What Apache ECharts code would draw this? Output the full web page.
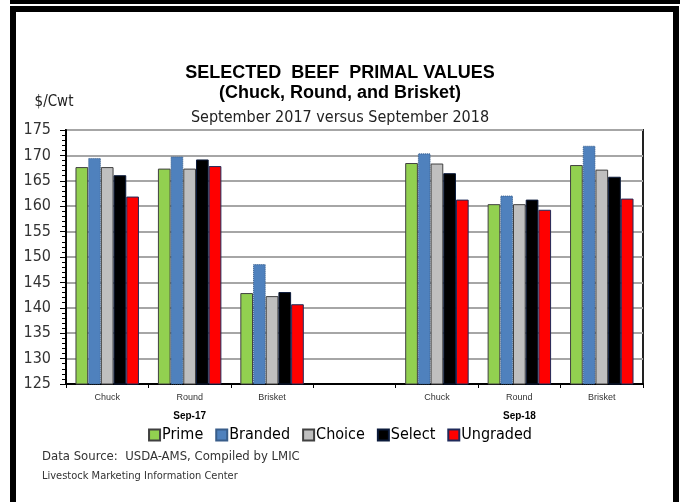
<!DOCTYPE html>
<html>
<head>
<meta charset="utf-8">
<script src="https://cdn.jsdelivr.net/npm/echarts@6/dist/echarts.min.js"></script>
<style>
  html, body { margin: 0; padding: 0; background: #fff; }
  #chart { width: 680px; height: 502px; }
</style>
</head>
<body>
<div id="chart"></div>
<script>
// categories along the x axis (4th slot is the empty spacer between years)
const cuts = ['Chuck', 'Round', 'Brisket', '', 'Chuck', 'Round', 'Brisket'];
const periods = ['', 'Sep-17', '', '', '', 'Sep-18', ''];

// $/cwt, Sep-17 then spacer then Sep-18
const prime    = [167.7, 167.4, 142.9, null, 168.5, 160.4, 168.1];
const branded  = [169.5, 169.8, 148.6, null, 170.4, 162.1, 171.9];
const choice   = [167.7, 167.4, 142.3, null, 168.4, 160.4, 167.2];
const select   = [166.1, 169.2, 143.1, null, 166.5, 161.3, 165.8];
const ungraded = [161.9, 167.9, 140.7, null, 161.3, 159.3, 161.5];

const narrow = "'Liberation Sans Narrow', 'DejaVu Sans Condensed', sans-serif";

const chart = echarts.init(document.getElementById('chart'));

function bar(name, data, color, border, borderType) {
  return {
    name: name,
    type: 'bar',
    data: data,
    barGap: '0%',
    barCategoryGap: '23%',
    itemStyle: {
      color: color,
      borderColor: border,
      borderWidth: 1,
      borderType: borderType || 'solid'
    }
  };
}

chart.setOption({
  animation: false,
  backgroundColor: '#fff',
  title: [
    {
      text: 'SELECTED  BEEF  PRIMAL VALUES\n(Chuck, Round, and Brisket)',
      left: 'center',
      top: 58,
      textStyle: { fontSize: 18, fontWeight: 'bold', color: '#000', lineHeight: 20, fontFamily: 'Liberation Sans' }
    },
    {
      text: 'September 2017 versus September 2018',
      left: 'center',
      top: 105,
      textStyle: { fontSize: 16, fontWeight: 'normal', color: '#222', fontFamily: narrow }
    }
  ],
  legend: {
    top: 422,
    left: 'center',
    icon: 'rect',
    itemWidth: 11,
    itemHeight: 11,
    itemGap: 12,
    textStyle: { fontSize: 16, color: '#000', fontFamily: narrow, padding: [0, 0, 0, -3] },
    data: ['Prime', 'Branded', 'Choice', 'Select', 'Ungraded']
  },
  grid: {
    left: 66, right: 37, top: 130, bottom: 118,
    show: true,
    borderColor: '#222',
    borderWidth: 2
  },
  xAxis: [
    {
      type: 'category',
      data: cuts,
      axisLine: { lineStyle: { color: '#000', width: 2 } },
      axisTick: { show: true, length: 4, lineStyle: { color: '#000' } },
      axisLabel: { fontSize: 9, color: '#333', margin: 9, fontFamily: 'Liberation Sans' }
    },
    {
      type: 'category',
      data: periods,
      position: 'bottom',
      offset: 19,
      axisLine: { show: false },
      axisTick: { show: false },
      axisLabel: { fontSize: 10, fontWeight: 'bold', color: '#000', fontFamily: 'Liberation Sans', interval: 0 }
    }
  ],
  yAxis: {
    type: 'value',
    min: 125,
    max: 175,
    interval: 5,
    name: '$/Cwt',
    nameLocation: 'end',
    nameGap: 20,
    nameTextStyle: { fontSize: 15, color: '#222', fontFamily: narrow, align: 'center', padding: [0, 24, 0, 0] },
    axisLine: { show: true, lineStyle: { color: '#000', width: 2 } },
    axisTick: { show: true, length: 6, lineStyle: { color: '#000' } },
    minorTick: { show: true, splitNumber: 5, length: 4, lineStyle: { color: '#000' } },
    axisLabel: { fontSize: 16, color: '#333', margin: 15, fontFamily: narrow },
    splitLine: { lineStyle: { color: '#a6a6a6', width: 2 } }
  },
  series: [
    bar('Prime', prime, '#92D050', '#404040'),
    bar('Branded', branded, '#4F81BD', '#385D8A', 'dotted'),
    bar('Choice', choice, '#BFBFBF', '#404040'),
    bar('Select', select, '#000000', '#0B1A3A'),
    bar('Ungraded', ungraded, '#FF0000', '#1F2A5A')
  ],
  graphic: [
    { type: 'rect', shape: { x: 10, y: 0, width: 670, height: 4 }, style: { fill: '#000' } },
    { type: 'rect', shape: { x: 13, y: 9, width: 663, height: 500 }, style: { fill: 'none', stroke: '#000', lineWidth: 6 } },
    {
      type: 'text', left: 42, top: 450,
      style: { text: 'Data Source:  USDA-AMS, Compiled by LMIC', fontSize: 13, fill: '#333', fontFamily: narrow }
    },
    {
      type: 'text', left: 42, top: 471,
      style: { text: 'Livestock Marketing Information Center', fontSize: 11, fill: '#333', fontFamily: narrow }
    }
  ]
});
</script>
</body>
</html>
